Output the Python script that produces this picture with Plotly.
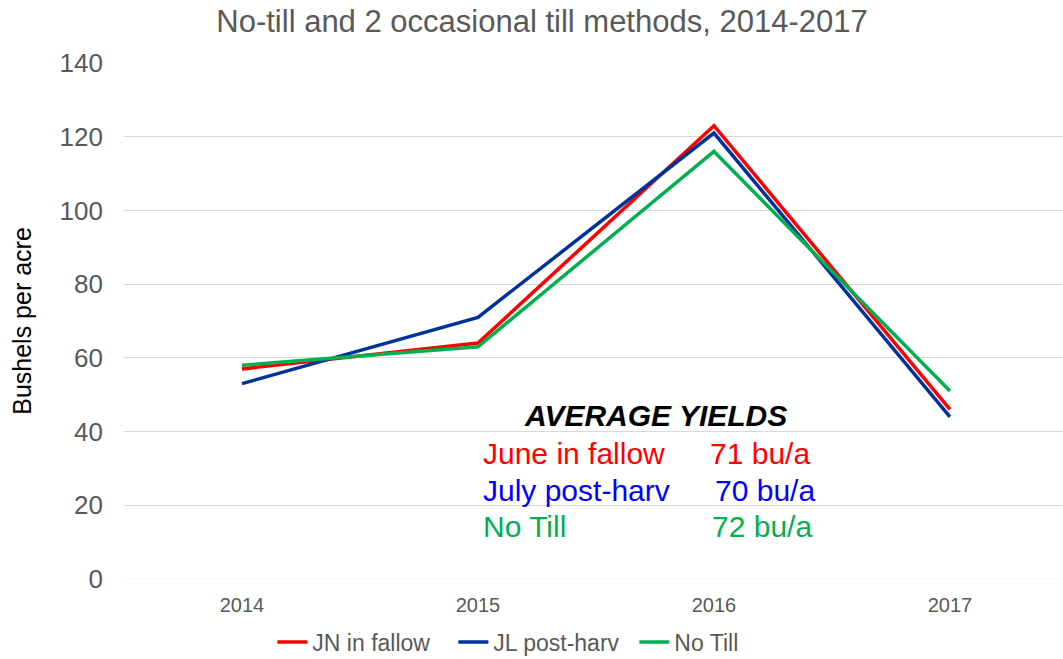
import plotly.graph_objects as go

# data
years = ['2014', '2015', '2016', '2017']
jn_fallow = [57, 64, 123, 46]
jl_postharv = [53, 71, 121, 44]
no_till = [58, 63, 116, 51]

y_ticks = [0, 20, 40, 60, 80, 100, 120, 140]

series = [
    ('JN in fallow', jn_fallow, '#FF0000'),
    ('JL post-harv', jl_postharv, '#003399'),
    ('No Till', no_till, '#00B050'),
]

fig = go.Figure()
for name, vals, col in series:
    fig.add_trace(go.Scatter(x=years, y=vals, name=name, mode='lines',
                             line=dict(color=col, width=3.5)))

# average yields box
avg_labels = ['June in fallow', 'July post-harv', 'No Till']
avg_values = ['71 bu/a', '70 bu/a', '72 bu/a']
avg_colors = ['#FF0000', '#0000FF', '#00B050']
avg_y = [0.244, 0.171, 0.101]
avg_x2 = [0.622, 0.627, 0.624]

fig.add_annotation(text='<b><i>AVERAGE YIELDS</i></b>', x=0.5655, y=0.316,
                   xref='paper', yref='paper', xanchor='center', yanchor='middle',
                   showarrow=False, font=dict(size=30, color='black'))
for lab, val, col, yy, xx in zip(avg_labels, avg_values, avg_colors, avg_y, avg_x2):
    fig.add_annotation(text=lab, x=0.38, y=yy, xref='paper', yref='paper',
                       xanchor='left', yanchor='middle', showarrow=False,
                       font=dict(size=30, color=col))
    fig.add_annotation(text=val, x=xx, y=yy, xref='paper', yref='paper',
                       xanchor='left', yanchor='middle', showarrow=False,
                       font=dict(size=30, color=col))

fig.update_layout(
    width=1063, height=659,
    template='simple_white',
    font=dict(family='Liberation Sans, Arial', color='#595959'),
    title=dict(text='No-till and 2 occasional till methods, 2014-2017',
               x=542 / 1063, xanchor='center', xref='container', y=1 - 21 / 659,
               yref='container', yanchor='middle', automargin=False,
               font=dict(size=31, color='#595959')),
    margin=dict(l=124, r=0, t=63, b=80, autoexpand=False),
    legend=dict(orientation='h', x=0.158, xanchor='left', y=-0.122, yanchor='middle',
                entrywidth=136, font=dict(size=23, color='#595959')),
    plot_bgcolor='white',
)
fig.update_xaxes(range=[-0.5, 3.479], showline=False, ticks='',
                 tickfont=dict(size=20, color='#595959'),
                 showgrid=False, ticklabelstandoff=12)
fig.update_yaxes(range=[0, 140], tickvals=y_ticks, showline=False, ticks='',
                 showgrid=True, gridcolor='#D9D9D9', gridwidth=1,
                 tickfont=dict(size=26, color='#595959'), ticklabelstandoff=20,
                 title=dict(text='Bushels per acre', font=dict(size=25, color='black'),
                            standoff=20),
                 zeroline=False)
fig.add_hline(y=0, line=dict(color='#D9D9D9', width=1))

fig.write_html('out.html', config={'displayModeBar': False},
               post_script="document.body.style.margin='0';")
